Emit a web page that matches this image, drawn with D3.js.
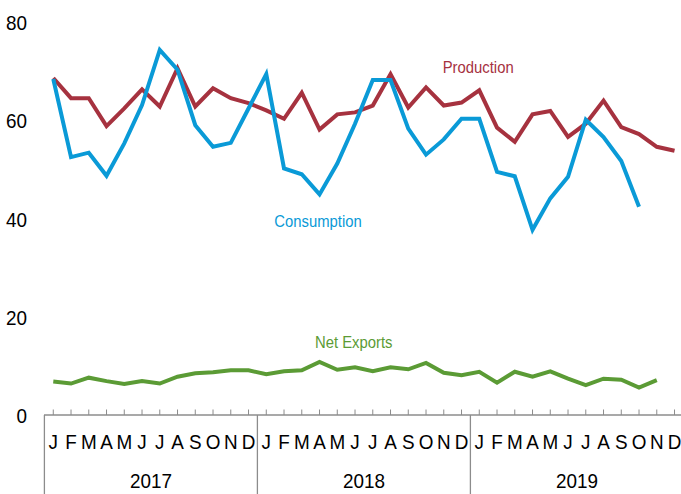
<!DOCTYPE html>
<html><head><meta charset="utf-8">
<script src="https://cdn.jsdelivr.net/npm/d3@7"></script>
<style>body{margin:0;background:#fff}svg{display:block}text{font-family:"Liberation Sans",Arial,sans-serif}</style>
</head><body>
<svg id="c" width="681" height="494"></svg>
<script>
const years = ["2017","2018","2019"];
const monthLabels = ["J","F","M","A","M","J","J","A","S","O","N","D"];
const yTicks = [0,20,40,60,80];
const production = [68.7,64.6,64.6,58.9,62.5,66.4,62.9,70.7,62.9,66.6,64.6,63.6,
  62.1,60.4,65.7,58.2,61.3,61.7,63.1,69.5,62.7,66.8,63.1,63.7,
  66.2,58.6,55.7,61.3,62.0,56.7,59.4,64.1,58.7,57.3,54.7,53.9];
const consumption = [68.5,52.6,53.5,48.8,55.4,63.2,74.4,70.4,59.1,54.7,55.5,62.5,
  69.5,50.3,49.1,45.0,51.3,59.4,68.3,68.3,58.4,53.1,56.2,60.4,
  60.4,49.6,48.7,37.8,44.2,48.6,60.2,56.7,51.8,42.5,null,null];
const netExports = [6.9,6.5,7.7,7.0,6.4,7.0,6.5,7.9,8.6,8.8,9.2,9.2,
  8.4,9.0,9.2,10.9,9.3,9.8,9.0,9.8,9.4,10.7,8.7,8.2,
  8.9,6.7,8.9,7.9,9.0,7.5,6.2,7.5,7.3,5.7,7.2,null];
const seriesNames = ["Production","Consumption","Net Exports"];
const colors = ["#A6323F","#0A9AD7","#5B9B35"];

const svg = d3.select("#c");
const periods = [];
years.forEach(y => monthLabels.forEach((m,i) => periods.push(y+"-"+i)));
const x = d3.scaleBand().domain(periods).range([44.4, 44.4 + 36*17.75]);
const y = d3.scaleLinear().domain([0,80]).range([415.5,22.5]);
const cx = i => x(periods[i]) + x.bandwidth()/2;
const SX = 0.9;
function txt(g, str, px, py, size, anchor, color){
  return g.append("text").attr("transform",`translate(${px},${py}) scale(${SX},1)`)
    .attr("text-anchor",anchor).attr("font-size",size).attr("fill",color).text(str);
}

// y labels
yTicks.forEach(t => txt(svg, t, 27, y(t)+7.5, 21, "end", "#000"));

// x axis
const axisG = svg.append("g");
axisG.append("line").attr("x1",44).attr("x2",681).attr("y1",415).attr("y2",415).attr("stroke","#8c8c8c").attr("stroke-width",1.3);
periods.forEach((p,i) => {
  axisG.append("line").attr("x1",cx(i)).attr("x2",cx(i)).attr("y1",409.5).attr("y2",415).attr("stroke","#8c8c8c").attr("stroke-width",1);
  txt(axisG, monthLabels[i%12], cx(i), 448.5, 21, "middle", "#000");
});
years.forEach((yr,k) => {
  const x0 = x(periods[k*12]);
  axisG.append("line").attr("x1",x0).attr("x2",x0).attr("y1",415).attr("y2",494).attr("stroke","#8c8c8c").attr("stroke-width",1.3);
  txt(axisG, yr, x0 + 6*x.step(), 488, 21, "middle", "#000");
});

// lines
const line = d3.line().defined(d => d != null).x((d,i) => cx(i)).y(d => y(d));
[production, consumption, netExports].forEach((s,k) => {
  svg.append("path").datum(s).attr("d", line).attr("fill","none")
    .attr("stroke", colors[k]).attr("stroke-width",4).attr("stroke-linejoin","miter");
});

// series labels
txt(svg, seriesNames[0], 442.7, 73, 16.5, "start", colors[0]);
txt(svg, seriesNames[1], 274.3, 226.5, 16.5, "start", colors[1]);
txt(svg, seriesNames[2], 315, 347.7, 16.5, "start", colors[2]);
</script>
</body></html>
